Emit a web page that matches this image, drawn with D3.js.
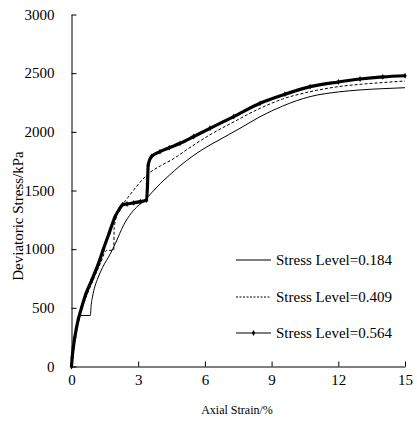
<!DOCTYPE html>
<html>
<head>
<meta charset="utf-8">
<script src="https://cdn.jsdelivr.net/npm/d3@7"></script>
<style>
  body { margin: 0; background: #fff; }
  text { font-family: "Liberation Serif", "Times New Roman", serif; fill: #000; }
</style>
</head>
<body>
<div id="chart"></div>
<script>
// values
let xTicks = [0, 3, 6, 9, 12, 15];
let yTicks = [0, 500, 1000, 1500, 2000, 2500, 3000];

let strain184 = [0, 0.05, 0.12, 0.22, 0.35, 0.85, 0.88, 0.95, 1.05, 1.2, 1.4, 1.73, 2.0, 2.33, 2.7, 3.0, 3.3, 3.6, 4.0, 4.4, 4.88, 5.5, 6.23, 6.68, 7.58, 8.48, 9.5, 10.73, 12.0, 12.98, 14.0, 15.0];
let stress184 = [0, 110, 210, 320, 435, 435, 510, 600, 680, 760, 845, 955, 1060, 1200, 1310, 1370, 1419, 1480, 1560, 1630, 1710, 1800, 1888, 1935, 2030, 2129, 2220, 2300, 2340, 2357, 2368, 2376];

let strain409 = [0, 0.04, 0.1, 0.18, 0.27, 0.38, 0.55, 0.8, 1.05, 1.3, 1.58, 1.9, 1.92, 2.26, 2.33, 2.78, 3.08, 3.5, 4.0, 4.58, 5.2, 6.23, 7.3, 8.48, 9.5, 10.73, 12.0, 12.98, 14.0, 15.0];
let stress409 = [0, 80, 170, 260, 350, 440, 540, 660, 770, 880, 990, 990, 1190, 1376, 1391, 1500, 1570, 1650, 1710, 1770, 1850, 1975, 2085, 2200, 2280, 2342, 2385, 2405, 2420, 2433];

let strain564 = [0, 0.03, 0.08, 0.15, 0.22, 0.31, 0.45, 0.65, 0.91, 1.2, 1.42, 1.7, 1.96, 2.15, 2.3, 2.5, 2.8, 3.1, 3.38, 3.42, 3.45, 3.6, 3.98, 4.4, 4.88, 5.5, 6.23, 7.3, 8.48, 9.6, 10.73, 12.0, 12.98, 14.0, 15.0];
let stress564 = [0, 75, 160, 250, 325, 405, 500, 620, 737, 870, 993, 1140, 1277, 1340, 1380, 1385, 1395, 1405, 1419, 1560, 1717, 1790, 1831, 1865, 1902, 1960, 2030, 2130, 2243, 2320, 2385, 2425, 2450, 2468, 2478];

let seriesNames = ["Stress Level=0.184", "Stress Level=0.409", "Stress Level=0.564"];

let width = 417;
let height = 426;
let serif = "'Liberation Serif', 'Times New Roman', serif";

let svg = d3.select("#chart").append("svg")
  .attr("width", width)
  .attr("height", height);

let x = d3.scaleLinear().domain([0, 15]).range([71.5, 405]);
let y = d3.scaleLinear().domain([0, 3000]).range([366.5, 14.5]);

// axes
let xAxis = svg.append("g")
  .attr("transform", `translate(0, ${y(0)})`)
  .call(d3.axisBottom(x).tickValues(xTicks).tickFormat(d3.format("d"))
    .tickSizeInner(-5).tickSizeOuter(0).tickPadding(8));

let yAxis = svg.append("g")
  .attr("transform", `translate(${x(0)}, 0)`)
  .call(d3.axisLeft(y).tickValues(yTicks).tickFormat(d3.format("d"))
    .tickSizeInner(-5).tickSizeOuter(0).tickPadding(17));

[xAxis, yAxis].forEach(function (g) {
  g.attr("font-family", serif).attr("font-size", 15);
  g.selectAll("path, line").attr("stroke", "#000").attr("stroke-width", 1);
  g.selectAll("text").attr("fill", "#000");
});

// axis titles
svg.append("text")
  .attr("x", 237)
  .attr("y", 414)
  .attr("text-anchor", "middle")
  .style("font-size", "12px")
  .text("Axial Strain/%");

svg.append("text")
  .attr("transform", "translate(23, 216) rotate(-90)")
  .attr("text-anchor", "middle")
  .style("font-size", "15px")
  .text("Deviatoric Stress/kPa");

let line = d3.line()
  .curve(d3.curveMonotoneX)
  .x(function (d) { return x(d[0]) })
  .y(function (d) { return y(d[1]) });

let data184 = strain184.map(function (d, i) { return [d, stress184[i]] });
let data409 = strain409.map(function (d, i) { return [d, stress409[i]] });
let data564 = strain564.map(function (d, i) { return [d, stress564[i]] });

svg.append("path")
  .datum(data184)
  .attr("d", line)
  .attr("fill", "none")
  .attr("stroke", "#000")
  .attr("stroke-width", 1);

svg.append("path")
  .datum(data409)
  .attr("d", line)
  .attr("fill", "none")
  .attr("stroke", "#000")
  .attr("stroke-width", 1)
  .attr("stroke-dasharray", "3,2");

svg.append("path")
  .datum(data564)
  .attr("d", line)
  .attr("fill", "none")
  .attr("stroke", "#000")
  .attr("stroke-width", 3.2);

let diamond = d3.symbol().type(d3.symbolDiamond).size(10);

svg.selectAll(".mark564")
  .data(data564)
  .enter()
  .append("path")
  .attr("class", "mark564")
  .attr("transform", function (d) { return `translate(${x(d[0])}, ${y(d[1])})` })
  .attr("d", diamond)
  .attr("fill", "#000");

// legend
let legendY = [260, 297, 333];
let legend = svg.append("g");

legend.selectAll("line")
  .data(seriesNames)
  .enter()
  .append("line")
  .attr("x1", 236)
  .attr("x2", 271)
  .attr("y1", function (d, i) { return legendY[i] })
  .attr("y2", function (d, i) { return legendY[i] })
  .attr("stroke", "#000")
  .attr("stroke-width", 1)
  .attr("stroke-dasharray", function (d, i) { return i === 1 ? "2,1.5" : null });

legend.append("path")
  .attr("transform", `translate(253.5, ${legendY[2]})`)
  .attr("d", diamond)
  .attr("fill", "#000");

legend.selectAll("text")
  .data(seriesNames)
  .enter()
  .append("text")
  .attr("x", 276)
  .attr("y", function (d, i) { return legendY[i] + 5 })
  .style("font-size", "15px")
  .text(function (d) { return d });
</script>
</body>
</html>
